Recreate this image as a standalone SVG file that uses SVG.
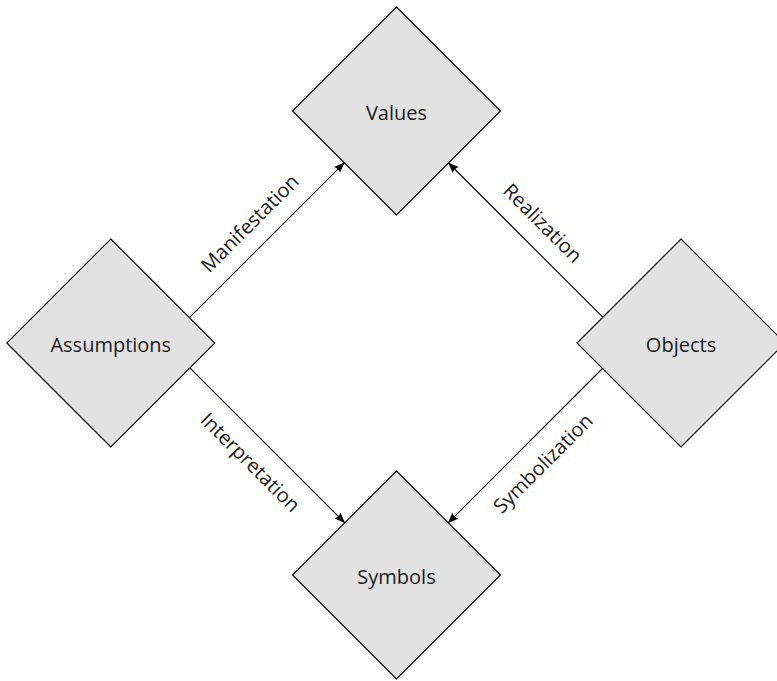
<svg xmlns="http://www.w3.org/2000/svg" width="777" height="681" viewBox="0 0 777 681">
  <style>
    .node polygon { fill: #e2e2e2; stroke: #000; stroke-width: 1.1; }
    .node text { font-family: "Open Sans", "DejaVu Sans", sans-serif; font-size: 20px; fill: #1a1a1a; text-anchor: middle; }
    .edge line { stroke: #000; stroke-width: 1.1; marker-end: url(#tip); }
    .edge text { font-family: "Open Sans", "DejaVu Sans", sans-serif; font-size: 20px; fill: #1a1a1a; text-anchor: middle; }
  </style>
  <defs>
    <!-- latex-style arrow tip, drawn in user units -->
    <marker id="tip" viewBox="-12 -6 12 12" refX="0" refY="0" markerWidth="12" markerHeight="12" markerUnits="userSpaceOnUse" orient="auto">
      <path d="M0.5,0 L-10,-4.2 Q-7.8,0 -10,4.2 Z" fill="#000"/>
    </marker>
  </defs>
  <rect width="777" height="681" fill="#fff"/>

  <g id="values" class="node">
    <polygon points="396.5,7 500.5,111 396.5,215 292.5,111"/>
    <text x="396.5" y="120">Values</text>
  </g>
  <g id="assumptions" class="node">
    <polygon points="110.8,239 214.8,343 110.8,447 6.8,343"/>
    <text x="110.8" y="352">Assumptions</text>
  </g>
  <g id="objects" class="node">
    <polygon points="681,239 785,343 681,447 577,343"/>
    <text x="681" y="352">Objects</text>
  </g>
  <g id="symbols" class="node">
    <polygon points="396.5,471 500.5,575 396.5,679 292.5,575"/>
    <text x="396.5" y="584">Symbols</text>
  </g>

  <g id="connectors" class="edge">
    <line x1="189.4" y1="317.6" x2="344.2" y2="162.8"/>
    <line x1="602.8" y1="317.2" x2="448.6" y2="163"/>
    <line x1="189.9" y1="367.9" x2="344.6" y2="522.6"/>
    <line x1="602.5" y1="368.5" x2="448.2" y2="522.8"/>
    <text transform="translate(266.8,240.2) rotate(-45)" y="-17">Manifestation</text>
    <text transform="translate(525.7,240.1) rotate(45)" y="-17">Realization</text>
    <text transform="translate(267.3,445.3) rotate(45)" y="31">Interpretation</text>
    <text transform="translate(525.3,445.7) rotate(-45)" y="32">Symbolization</text>
  </g>
</svg>
